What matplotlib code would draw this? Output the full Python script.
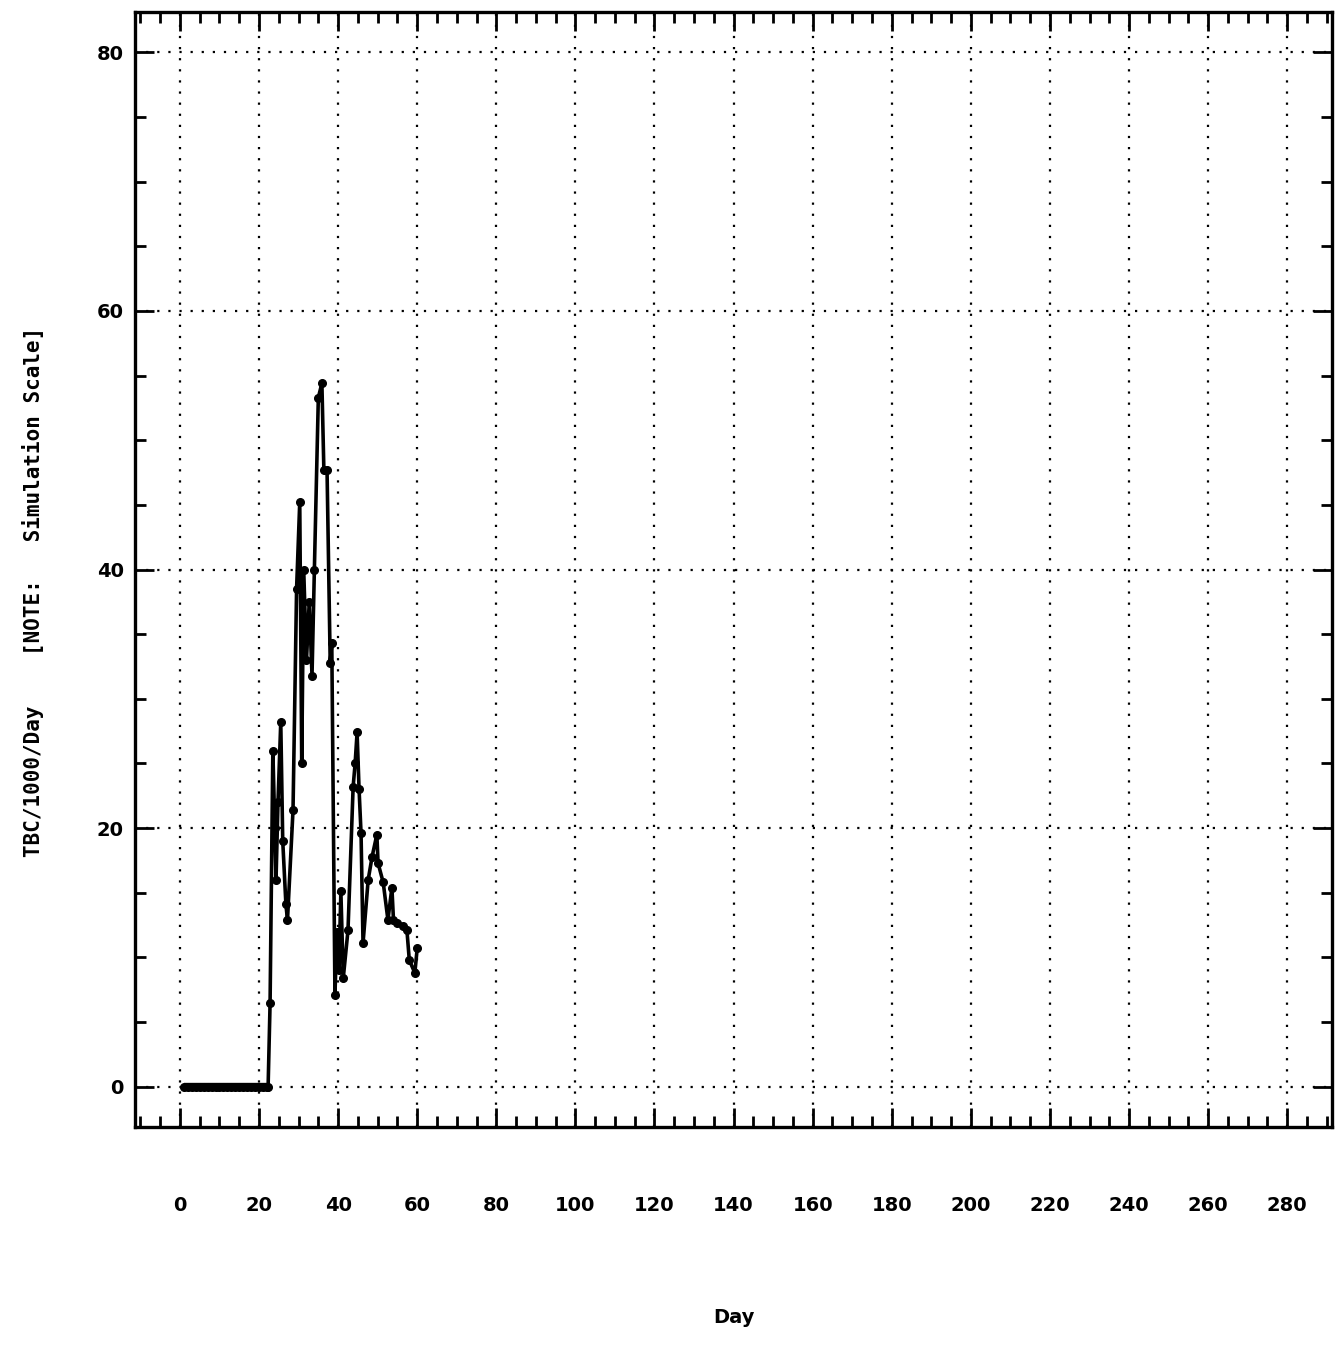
import numpy as np
import matplotlib
matplotlib.use('Agg')
import matplotlib.pyplot as plt
from matplotlib.ticker import MultipleLocator

# -------------------------------------------------------
# DATOS
# -------------------------------------------------------
zero_days = [1, 2, 3, 4, 5, 6, 7, 8, 9, 10, 11, 12, 13, 14, 15, 16, 17,
             18, 19, 20, 21, 22]
zero_vals = [0.0] * len(zero_days)

peak_days = [22.3, 22.8, 23.5, 24.0, 24.3, 24.8, 25.5, 26.0, 26.8, 27.2,
             28.6, 29.5, 30.3, 30.8, 31.3, 32.0, 32.7, 33.4, 34.0, 35.0,
             35.9, 36.4, 37.2, 38.0, 38.4, 39.2, 39.7, 40.2, 40.7, 41.3,
             42.5, 43.8, 44.3, 44.8, 45.3, 45.8, 46.3, 47.6, 48.6, 49.8,
             50.1, 51.4, 52.6, 53.6, 54.0, 55.0, 56.3, 57.4, 58.0, 59.4,
             60.0]
peak_vals = [0.0, 6.5, 26.0, 20.0, 16.0, 22.0, 28.2, 19.0, 14.1, 12.9,
             21.4, 38.5, 45.2, 25.0, 40.0, 33.0, 37.5, 31.8, 40.0, 53.3,
             54.4, 47.7, 47.7, 32.8, 34.3, 7.1, 12.0, 9.0, 15.1, 8.4,
             12.1, 23.2, 25.0, 27.4, 23.0, 19.6, 11.1, 16.0, 17.8, 19.5,
             17.3, 15.8, 12.9, 15.4, 12.9, 12.7, 12.4, 12.1, 9.8, 8.8,
             10.7]

days = zero_days + peak_days
vals = zero_vals + peak_vals

x_ticks = list(range(0, 281, 20))
y_ticks = [0, 20, 40, 60, 80]

font_fam = ['Liberation Sans Narrow', 'DejaVu Sans']

# -------------------------------------------------------
# FIGURA
# -------------------------------------------------------
fig = plt.figure(figsize=(13.35, 13.56), dpi=100)
ax = fig.add_axes([0.101, 0.169, 0.897, 0.822])

ax.plot(days, vals, color='black', linewidth=2.6, marker='o',
        markersize=5.5, zorder=3)
# tramo en cero mas grueso, como en la figura original
ax.plot(zero_days, zero_vals, color='black', linewidth=6,
        solid_capstyle='butt', zorder=3)

ax.set_xlim(-11.4, 291.4)
ax.set_ylim(-3.1, 83.1)

ax.set_xticks(x_ticks)
ax.set_yticks(y_ticks)
ax.xaxis.set_minor_locator(MultipleLocator(5))
ax.yaxis.set_minor_locator(MultipleLocator(5))

ax.grid(True, which='major', linestyle=(0, (1, 4)), color='black',
        linewidth=1.6)

for s in ax.spines.values():
    s.set_linewidth(2.4)

ax.tick_params(axis='both', which='major', direction='in', length=14,
               width=2, top=True, right=True)
ax.tick_params(axis='both', which='minor', direction='in', length=8,
               width=2, top=True, right=True)
ax.tick_params(axis='x', which='major', pad=50)
ax.tick_params(axis='y', which='major', pad=8)

for lab in ax.get_xticklabels() + ax.get_yticklabels():
    lab.set_family(font_fam)
    lab.set_fontweight('bold')
    lab.set_fontsize(14)

ax.set_xlabel('Day', family=font_fam, fontweight='bold', fontsize=14,
              va='center')
ax.xaxis.set_label_coords(0.5, -0.171)
ax.set_ylabel('TBC/1000/Day    [NOTE:   Simulation Scale]',
              family='DejaVu Sans Mono', fontweight='bold', fontsize=15,
              va='center')
ax.yaxis.set_label_coords(-0.085, 0.48)

fig.savefig('out.png', dpi=100)
